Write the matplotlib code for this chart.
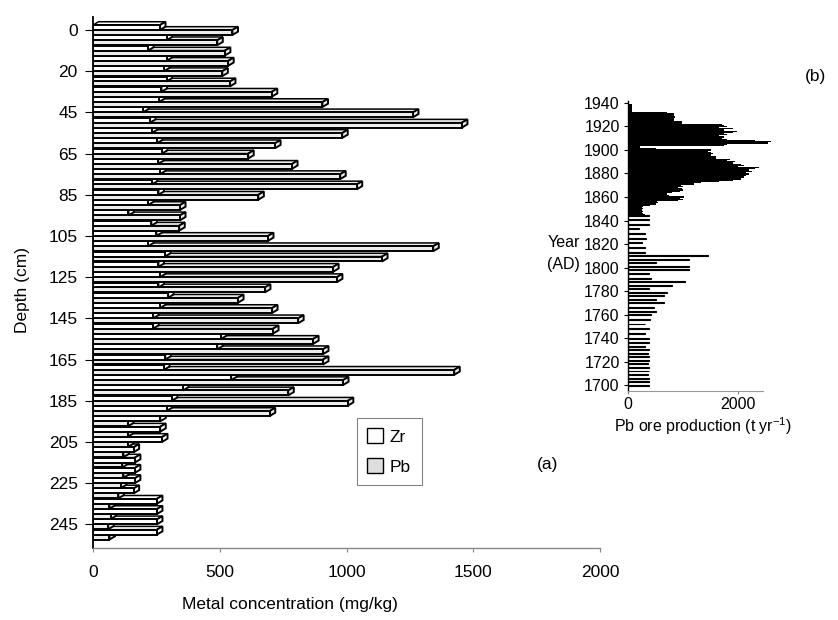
import matplotlib
matplotlib.use('Agg')
import matplotlib.pyplot as plt
from matplotlib.patches import Patch
import numpy as np

plt.rcParams['font.family'] = ['Liberation Sans', 'DejaVu Sans']
plt.rcParams['mathtext.fontset'] = 'custom'
plt.rcParams['mathtext.rm'] = 'Liberation Sans'
plt.rcParams['mathtext.it'] = 'Liberation Sans'

# ---------------- data: panel (a) ----------------
depth_cm = [0, 5, 10, 15, 20, 30, 35, 40, 45, 50, 55, 60, 65, 70, 75, 80, 85,
            90, 95, 100, 105, 110, 115, 120, 125, 130, 135, 140, 145, 150, 155,
            160, 165, 170, 175, 180, 185, 190, 195, 200, 205, 210, 215, 220,
            225, 230, 235, 240, 245, 250]
zr_mgkg = [264, 290, 217, 290, 280, 290, 270, 260, 197, 225, 232, 252, 272, 257,
           264, 232, 258, 217, 140, 230, 250, 217, 284, 258, 264, 258, 296, 264,
           237, 237, 505, 490, 285, 280, 545, 355, 311, 290, 265, 265, 272, 160,
           165, 165, 165, 160, 252, 252, 252, 252]
pb_mgkg = [550, 490, 520, 533, 510, 540, 705, 905, 1262, 1455, 983, 718, 612, 785,
           975, 1040, 652, 343, 343, 340, 690, 1342, 1140, 947, 962, 678, 572, 706,
           809, 710, 868, 907, 907, 1425, 986, 770, 1005, 697, 138, 138, 138, 120,
           115, 120, 110, 100, 65, 70, 60, 65]
depth_tick_labels = ['0', '20', '45', '65', '85', '105', '125', '145', '165',
                     '185', '205', '225', '245']
conc_ticks = [0, 500, 1000, 1500, 2000]

# ---------------- data: panel (b) ----------------
mine_years = [1939, 1938, 1937, 1936, 1935, 1934, 1933, 1932, 1931, 1930, 1929,
              1928, 1927, 1926, 1925, 1924, 1923, 1922, 1921, 1920, 1919, 1918,
              1917, 1916, 1915, 1914, 1913, 1912, 1911, 1910, 1909, 1908, 1907,
              1906, 1905, 1904, 1903, 1902, 1901, 1900, 1899, 1898, 1897, 1896,
              1895, 1894, 1893, 1892, 1891, 1890, 1889, 1888, 1887, 1886, 1885,
              1884, 1883, 1882, 1881, 1880, 1879, 1878, 1877, 1876, 1875, 1874,
              1873, 1872, 1871, 1870, 1869, 1868, 1867, 1866, 1865, 1864, 1863,
              1862, 1861, 1860, 1859, 1858, 1857, 1856, 1855, 1854, 1853, 1852,
              1851, 1850, 1849, 1848, 1847, 1846, 1845]
mine_prod = [70, 70, 70, 70, 70, 70, 70, 700, 830, 830, 830, 850, 830, 830, 830,
             990, 990, 1700, 1750, 1800, 1650, 1900, 1750, 1980, 1900, 1750, 1800,
             1650, 1750, 1700, 1800, 2300, 2600, 2550, 1800, 1750, 210, 210, 500,
             1500, 1450, 1500, 1550, 1500, 1500, 1600, 1600, 1850, 1800, 1950,
             1900, 2050, 2100, 2000, 2380, 2300, 2200, 2250, 2150, 2200, 2200,
             2150, 2100, 2050, 2050, 1900, 1650, 1330, 1200, 960, 1000, 900, 990,
             1000, 950, 800, 700, 710, 750, 1020, 950, 1000, 900, 520, 550, 500,
             400, 280, 250, 280, 260, 280, 250, 270, 300]
early_years = [1700, 1703, 1706, 1709, 1712, 1715, 1718, 1721, 1724, 1727, 1730,
               1733, 1736, 1740, 1744, 1748, 1752, 1756, 1760, 1763, 1766, 1770,
               1773, 1776, 1779, 1782, 1785, 1788, 1791, 1795, 1798, 1801, 1804,
               1807, 1810, 1813, 1817, 1821, 1825, 1829, 1833, 1837, 1841, 1844]
early_prod = [380, 380, 380, 360, 380, 380, 360, 380, 380, 360, 380, 300, 380,
              380, 300, 380, 300, 400, 420, 500, 480, 660, 500, 660, 700, 380,
              800, 1045, 420, 380, 1115, 1115, 500, 1115, 1460, 300, 300, 250,
              320, 300, 200, 380, 380, 380]
year_ticks = [1700, 1720, 1740, 1760, 1780, 1800, 1820, 1840, 1860, 1880, 1900,
              1920, 1940]
prod_ticks = [0, 2000]

# ---------------- figure ----------------
W, H = 838, 620
fig = plt.figure(figsize=(W / 100, H / 100), dpi=100)


def rect(x0, y0, x1, y1):
    return [x0 / W, 1 - y1 / H, (x1 - x0) / W, (y1 - y0) / H]


zr_color = 'white'
pb_color = '#ececec'

axa = fig.add_axes(rect(93, 17, 600, 548))
n = len(depth_cm)
h = 0.48
dx = 22.0
dy = 0.32
for i in reversed(range(n)):
    z = 2 + (n - i) * 0.05
    series = [(pb_mgkg[i], pb_color, i + h / 2), (zr_mgkg[i], zr_color, i - h / 2)]
    for k, (v, fc, yc) in enumerate(series):
        zz = z + k * 0.02
        top = yc - h / 2
        bot = yc + h / 2
        top_face = [(0, top), (dx, top - dy), (v + dx, top - dy), (v, top)]
        end_face = [(v, top), (v + dx, top - dy), (v + dx, bot - dy), (v, bot)]
        axa.fill(*zip(*top_face), facecolor=fc, edgecolor='black', lw=1.1, zorder=zz)
        axa.fill(*zip(*end_face), facecolor=fc, edgecolor='black', lw=1.4, zorder=zz + 0.001)
        axa.barh(yc, v, height=h, color=fc, edgecolor='black', lw=1.4, zorder=zz + 0.002)

axa.set_xlim(0, 2000)
axa.set_ylim(50.3, -1.26)
axa.set_yticks(list(range(0, 4 * len(depth_tick_labels), 4)))
axa.set_yticklabels(depth_tick_labels)
axa.set_xticks(conc_ticks)
axa.set_xticklabels([str(t) for t in conc_ticks])
axa.tick_params(axis='y', labelsize=12.5, length=6, width=0.8, pad=5)
axa.tick_params(axis='x', labelsize=12.5, length=3, width=0.8, color='#888888', pad=9)
for s in ['top', 'right']:
    axa.spines[s].set_visible(False)
axa.spines['left'].set_linewidth(1.3)
axa.spines['bottom'].set_color('#888888')
axa.spines['bottom'].set_linewidth(1.0)

handles = [Patch(facecolor=zr_color, edgecolor='black', lw=1.0),
           Patch(facecolor='#dddddd', edgecolor='black', lw=1.0)]
leg = axa.legend(handles, ['Zr', 'Pb'], loc='upper left',
                 bbox_to_anchor=(357 / W, 1 - 418 / H), bbox_transform=fig.transFigure,
                 frameon=True, fancybox=False, edgecolor='#666666', fontsize=12.5,
                 handlelength=0.9, handleheight=0.9, labelspacing=0.8,
                 borderpad=0.6, handletextpad=0.4, borderaxespad=0)
leg.get_frame().set_linewidth(0.8)
leg.set_zorder(20)

fig.text(290 / W, 1 - 605 / H, 'Metal concentration (mg/kg)', ha='center', va='center', fontsize=12.5)
fig.text(22 / W, 1 - 290 / H, 'Depth (cm)', ha='center', va='center', rotation=90, fontsize=12.5)
fig.text(548 / W, 1 - 465 / H, '(a)', ha='center', va='center', fontsize=12.5)

# ---------------- panel (b) ----------------
axb = fig.add_axes(rect(628, 100.6, 787.5, 391))
axb.barh(mine_years, mine_prod, height=1.0, color='black', lw=0)
axb.barh(early_years, early_prod, height=0.8, color='white', edgecolor='black', lw=0.8)
axb.set_xlim(0, 2900)
axb.set_ylim(1695, 1942)
axb.set_yticks(year_ticks)
axb.set_yticklabels([str(t) for t in year_ticks])
axb.set_xticks(prod_ticks)
axb.set_xticklabels([str(t) for t in prod_ticks])
axb.tick_params(axis='y', labelsize=11.5, length=3, width=0.8, pad=3)
axb.tick_params(axis='x', labelsize=11.5, length=2, width=0.8, color='#888888', pad=2)
for s in ['top', 'right']:
    axb.spines[s].set_visible(False)
axb.spines['left'].set_linewidth(1.0)
axb.spines['bottom'].set_color('#999999')
axb.spines['bottom'].set_bounds(0, 2450)

fig.text(580 / W, 1 - 243 / H, 'Year', ha='right', va='center', fontsize=11.5)
fig.text(580 / W, 1 - 264 / H, '(AD)', ha='right', va='center', fontsize=11.5)
fig.text(703 / W, 1 - 426 / H, 'Pb ore production (t yr$^{-1}$)', ha='center', va='center', fontsize=11.5)
fig.text(815 / W, 1 - 77 / H, '(b)', ha='center', va='center', fontsize=12.5)

fig.savefig('out.png', dpi=100)
